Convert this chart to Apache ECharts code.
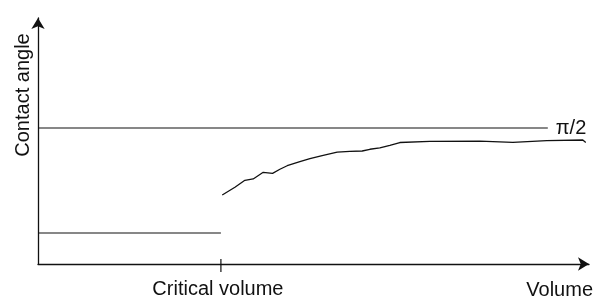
<!DOCTYPE html>
<html>
<head>
<meta charset="utf-8">
<script src="https://cdn.jsdelivr.net/npm/echarts@6/dist/echarts.min.js"></script>
<style>html,body{margin:0;padding:0;background:#fff}#c{width:600px;height:300px}</style>
</head>
<body>
<div id="c"></div>
<script>
// Data (volume in arbitrary units, contact angle in radians)
const criticalVolume = 3.303;
const halfPi = 1.5708;
const halfPiEnd = 9.206;
const lowAngle = 0.358;
const curveVolume = [3.327, 3.556, 3.736, 3.886, 4.067, 4.236, 4.368, 4.500, 4.729, 4.910, 5.150, 5.403, 5.632, 5.854, 5.993, 6.173, 6.354, 6.534, 7.076, 7.978, 8.574, 9.188, 9.838, 9.892];
const curveAngle  = [0.797, 0.886, 0.967, 0.982, 1.059, 1.047, 1.094, 1.135, 1.181, 1.216, 1.255, 1.293, 1.301, 1.305, 1.325, 1.340, 1.371, 1.403, 1.417, 1.420, 1.405, 1.424, 1.432, 1.403];
const xLabels = ['Critical volume'];
const xName = 'Volume';
const yName = 'Contact angle';
const halfPiLabel = 'π/2';

const FONT = "'Liberation Sans', Arial, Helvetica, sans-serif";
const INK = '#111';
const TXT = '#111';

const chart = echarts.init(document.getElementById('c'), null, {renderer: 'canvas'});
chart.setOption({
  animation: false,
  grid: {left: 38, right: 11, top: 18, bottom: 36},
  xAxis: {
    type: 'value', min: 0, max: 9.95,
    name: xName, nameLocation: 'end', nameGap: 4,
    nameTextStyle: {fontFamily: FONT, fontSize: 20, color: TXT, align: 'right', verticalAlign: 'top', padding: [16, 0, 0, 0]},
    axisLine: {show: true, symbol: ['none', 'arrow'], symbolSize: [10, 11], lineStyle: {color: INK, width: 1.3}},
    axisTick: {show: false},
    splitLine: {show: false},
    axisLabel: {show: true, customValues: [criticalVolume], formatter: () => xLabels[0], margin: 15,
      fontFamily: FONT, fontSize: 20, color: TXT, padding: [0, 6, 0, 0]}
  },
  yAxis: {
    type: 'value', min: 0, max: 2.841,
    name: yName, nameLocation: 'middle', nameRotate: 90, nameGap: 5,
    nameTextStyle: {fontFamily: FONT, fontSize: 20, color: TXT, padding: [0, 0, 0, 92]},
    axisLine: {show: true, symbol: ['none', 'arrow'], symbolSize: [10, 11], lineStyle: {color: INK, width: 1.3}},
    axisTick: {show: false},
    splitLine: {show: false},
    axisLabel: {show: false}
  },
  series: [
    {
      type: 'line', data: [[0, halfPi], [halfPiEnd, halfPi]], symbol: 'none',
      lineStyle: {color: INK, width: 1.2},
      endLabel: {show: true, formatter: () => halfPiLabel, distance: 8, fontFamily: FONT, fontSize: 20, color: TXT}
    },
    {
      type: 'line', data: [[0, lowAngle], [criticalVolume, lowAngle]], symbol: 'none',
      lineStyle: {color: INK, width: 1.2}
    },
    {
      type: 'line', data: curveVolume.map((v, i) => [v, curveAngle[i]]), symbol: 'none',
      lineStyle: {color: INK, width: 1.3}
    },
    {
      type: 'line', clip: false, data: [[criticalVolume, -0.092], [criticalVolume, 0.058]], symbol: 'none',
      lineStyle: {color: INK, width: 1.2}
    }
  ]
});
</script>
</body>
</html>
